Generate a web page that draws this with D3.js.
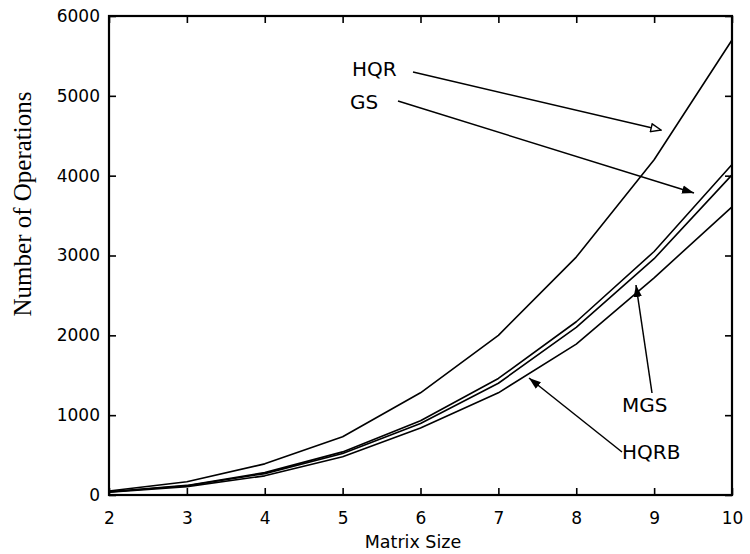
<!DOCTYPE html>
<html>
<head>
<meta charset="utf-8">
<script src="https://cdn.jsdelivr.net/npm/d3@7"></script>
<style>
  html, body { margin: 0; padding: 0; background: #fff; }
  svg { display: block; }
</style>
</head>
<body>
<svg id="chart" width="750" height="554"></svg>
<script>
// Operation counts of QR factorisation variants versus matrix size
const sizes = [2, 3, 4, 5, 6, 7, 8, 9, 10];
const hqr  = [50, 165, 390, 730, 1280, 2000, 2980, 4200, 5700];
const gs   = [40, 120, 280, 540, 930, 1460, 2170, 3050, 4140];
const mgs  = [38, 115, 268, 520, 895, 1400, 2100, 2960, 4010];
const hqrb = [35, 105, 240, 480, 840, 1280, 1890, 2720, 3610];

const xTicks = [2, 3, 4, 5, 6, 7, 8, 9, 10];
const yTicks = [0, 1000, 2000, 3000, 4000, 5000, 6000];

const seriesNames = ["HQR", "GS", "MGS", "HQRB"];
const seriesValues = [hqr, gs, mgs, hqrb];

const svg = d3.select("#chart");
svg.append("rect").attr("width", 750).attr("height", 554).attr("fill", "#fff");

const L = 109, R = 732, T = 16, B = 495;
const x = d3.scaleLinear().domain([2, 10]).range([L, R]);
const y = d3.scaleLinear().domain([0, 6000]).range([B, T]);

const font = "'DejaVu Sans', sans-serif";

// curves
const line = d3.line().x((d, i) => x(sizes[i])).y(d => y(d));
svg.append("g").selectAll("path")
  .data(seriesValues)
  .join("path")
  .attr("d", d => line(d))
  .attr("fill", "none")
  .attr("stroke", "#000")
  .attr("stroke-width", 1.6)
  .attr("stroke-linejoin", "round");

// axes (ticks point inward on every side)
const tickLen = 7;
const axisBottomG = svg.append("g").attr("transform", `translate(0,${B})`)
  .call(d3.axisBottom(x).tickValues(xTicks).tickSizeInner(-tickLen).tickSizeOuter(0).tickPadding(23).tickFormat(d3.format("d")));
const axisLeftG = svg.append("g").attr("transform", `translate(${L},0)`)
  .call(d3.axisLeft(y).tickValues(yTicks).tickSizeInner(-tickLen).tickSizeOuter(0).tickPadding(9).tickFormat(d3.format("d")));
const axisTopG = svg.append("g").attr("transform", `translate(0,${T})`)
  .call(d3.axisTop(x).tickValues(xTicks).tickSizeInner(-tickLen).tickSizeOuter(0).tickFormat(""));
const axisRightG = svg.append("g").attr("transform", `translate(${R},0)`)
  .call(d3.axisRight(y).tickValues(yTicks).tickSizeInner(-tickLen).tickSizeOuter(0).tickFormat(""));

[axisBottomG, axisLeftG, axisTopG, axisRightG].forEach(g => {
  g.select(".domain").remove();
  g.selectAll(".tick line").attr("stroke", "#000").attr("stroke-width", 1.6);
  g.selectAll(".tick text").attr("fill", "#000").style("font-family", font).style("font-size", "17px");
});
axisBottomG.selectAll(".tick text").attr("dy", "0.35em");

// frame
svg.append("rect")
  .attr("x", L).attr("y", T).attr("width", R - L).attr("height", B - T)
  .attr("fill", "none").attr("stroke", "#000").attr("stroke-width", 2.2);

// axis titles
svg.append("text")
  .attr("x", 413).attr("y", 548)
  .attr("text-anchor", "middle")
  .style("font-family", font).style("font-size", "17.5px")
  .text("Matrix Size");

svg.append("text")
  .attr("transform", "translate(31,204) rotate(-90)")
  .attr("text-anchor", "middle")
  .style("font-family", "'Liberation Serif', 'Times New Roman', serif").style("font-size", "25px")
  .text("Number of Operations");

// arrowheads
const defs = svg.append("defs");
defs.append("marker").attr("id", "head-open")
  .attr("viewBox", "0 0 12 10").attr("refX", 11).attr("refY", 5)
  .attr("markerWidth", 12).attr("markerHeight", 10)
  .attr("markerUnits", "userSpaceOnUse").attr("orient", "auto")
  .append("path").attr("d", "M1,1 L11,5 L1,9 Z")
  .attr("fill", "#fff").attr("stroke", "#000").attr("stroke-width", 1.4);
defs.append("marker").attr("id", "head-filled")
  .attr("viewBox", "0 0 12 10").attr("refX", 12).attr("refY", 5)
  .attr("markerWidth", 12).attr("markerHeight", 10)
  .attr("markerUnits", "userSpaceOnUse").attr("orient", "auto")
  .append("path").attr("d", "M0,0.8 L12,5 L0,9.2 Z").attr("fill", "#000");

// series annotations: label position, arrow start and arrow tip
const labels = [
  { name: seriesNames[0], lx: 352, ly: 76,  from: [413, 72],  to: [661, 130], head: "head-open" },
  { name: seriesNames[1], lx: 350, ly: 109, from: [398, 101], to: [694, 193], head: "head-filled" },
  { name: seriesNames[2], lx: 622, ly: 412, from: [652, 393], to: [636, 285], head: "head-filled" },
  { name: seriesNames[3], lx: 622, ly: 459, from: [622, 452], to: [529, 378], head: "head-filled" }
];

const ann = svg.append("g");
ann.selectAll("line")
  .data(labels)
  .join("line")
  .attr("x1", d => d.from[0]).attr("y1", d => d.from[1])
  .attr("x2", d => d.to[0]).attr("y2", d => d.to[1])
  .attr("stroke", "#000").attr("stroke-width", 1.5)
  .attr("marker-end", d => `url(#${d.head})`);
ann.selectAll("text")
  .data(labels)
  .join("text")
  .attr("x", d => d.lx).attr("y", d => d.ly)
  .style("font-family", font).style("font-size", "20px")
  .text(d => d.name);
</script>
</body>
</html>
